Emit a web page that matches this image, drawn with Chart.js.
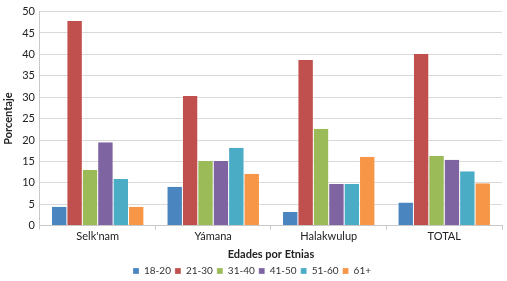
<!DOCTYPE html>
<html>
<head>
<meta charset="utf-8">
<script src="https://cdn.jsdelivr.net/npm/chart.js@4"></script>
<style>
  html, body { margin: 0; padding: 0; background: #fff; }
  #chart { display: block; }
</style>
</head>
<body>
<canvas id="chart" width="507" height="281"></canvas>
<script>
// --- Data ---
const etnias = ['Selk\'nam', 'Yámana', 'Halakwulup', 'TOTAL'];
const edades = ['18-20', '21-30', '31-40', '41-50', '51-60', '61+'];
const colores = ['#4a85bf', '#c0504d', '#9bbb59', '#7f64a2', '#4bacc6', '#f79646'];

const values = {
  '18-20': [4.4, 9.1, 3.2, 5.4],
  '21-30': [47.8, 30.3, 38.7, 40.1],
  '31-40': [13.0, 15.1, 22.6, 16.3],
  '41-50': [19.5, 15.1, 9.7, 15.4],
  '51-60': [10.9, 18.2, 9.7, 12.7],
  '61+': [4.4, 12.1, 16.1, 9.9]
};
const yTicks = [0, 5, 10, 15, 20, 25, 30, 35, 40, 45, 50];

const fontFam = 'Lato, "Open Sans", sans-serif';

const datasets = edades.map((e, i) => ({
  label: e,
  data: values[e],
  backgroundColor: colores[i],
  borderColor: '#ffffff',
  borderWidth: { left: 0.5, right: 0.5, top: 0, bottom: 0 },
  barPercentage: 1.0,
  categoryPercentage: 0.8
}));

new Chart(document.getElementById('chart'), {
  type: 'bar',
  data: { labels: etnias, datasets },
  options: {
    responsive: false,
    animation: false,
    layout: { padding: { left: 2, right: 5, top: 7, bottom: -5 } },
    plugins: {
      legend: {
        position: 'bottom',
        labels: {
          boxWidth: 6, boxHeight: 6, padding: 4,
          color: '#333',
          font: { family: fontFam, size: 10 }
        }
      },
      tooltip: { enabled: false }
    },
    scales: {
      x: {
        grid: { offset: true, drawOnChartArea: false, color: '#c8c8c8', tickLength: 4 },
        border: { color: '#c8c8c8' },
        ticks: { color: '#222', font: { family: fontFam, size: 11 }, padding: 0 },
        title: {
          display: true, text: 'Edades por Etnias', color: '#222',
          font: { family: fontFam, size: 11, weight: 'bold' }, padding: { top: 5, bottom: 1 }
        }
      },
      y: {
        min: 0, max: 50,
        afterBuildTicks: (axis) => { axis.ticks = yTicks.map(v => ({ value: v })); },
        grid: { color: '#d9d9d9', drawTicks: false },
        border: { color: '#c8c8c8' },
        ticks: { color: '#222', font: { family: fontFam, size: 11 }, padding: 5 },
        title: {
          display: true, text: 'Porcentaje', color: '#222',
          font: { family: fontFam, size: 11, weight: 'bold' }, padding: { top: 0, bottom: 2 }
        }
      }
    }
  }
});
</script>
</body>
</html>
